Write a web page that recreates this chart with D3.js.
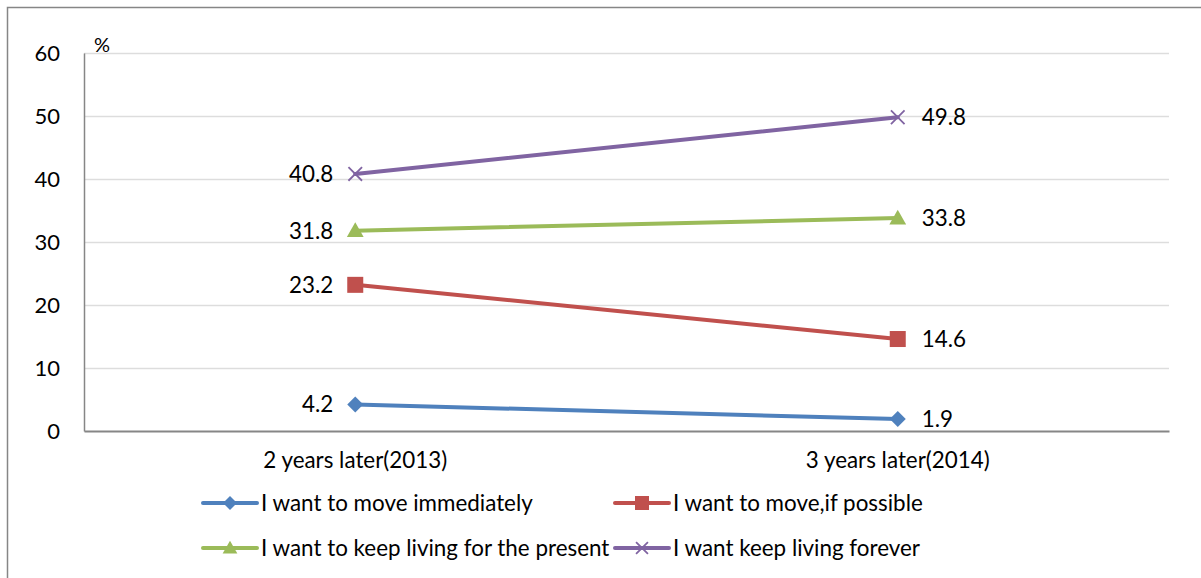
<!DOCTYPE html>
<html>
<head>
<meta charset="utf-8">
<script src="https://cdn.jsdelivr.net/npm/d3@7"></script>
<style>
  html, body { margin: 0; padding: 0; background: #fff; }
  svg { display: block; font-family: Lato, "Open Sans", sans-serif; }
</style>
</head>
<body>
<svg id="chart" width="1201" height="578"></svg>
<script>
// Survey answers on intention to stay, two survey years
const categories = ["2 years later(2013)", "3 years later(2014)"];
const seriesNames = [
  "I want to move immediately",
  "I want to move,if possible",
  "I want to keep living for the present",
  "I want keep living forever"
];
const moveImmediately = [4.2, 1.9];
const moveIfPossible = [23.2, 14.6];
const keepForPresent = [31.8, 33.8];
const keepForever = [40.8, 49.8];
const yTicks = [0, 10, 20, 30, 40, 50, 60];

const seriesValues = [moveImmediately, moveIfPossible, keepForPresent, keepForever];
const colors = ["#4F81BD", "#C0504D", "#9BBB59", "#8064A2"];
const markers = ["diamond", "square", "triangle", "cross"];

const svg = d3.select("#chart");
const W = 1201, H = 578;
const plot = { left: 84, right: 1169, top: 53, bottom: 431 };
const fontFamily = "Lato, 'Open Sans', sans-serif";
const fontSize = 22.4;

// outer chart frame
svg.append("rect")
  .attr("x", 7.5).attr("y", 7.5)
  .attr("width", W + 20).attr("height", H + 20)
  .attr("fill", "none").attr("stroke", "#868686").attr("stroke-width", 1.5);

const x = d3.scaleBand().domain(categories).range([plot.left, plot.right]);
const y = d3.scaleLinear().domain([0, 60]).range([plot.bottom, plot.top]);

// gridlines
svg.append("g").selectAll("line").data(yTicks.filter(t => t > 0)).join("line")
  .attr("x1", plot.left).attr("x2", plot.right)
  .attr("y1", d => y(d) + 0.5).attr("y2", d => y(d) + 0.5)
  .attr("stroke", "#DDDDDD").attr("stroke-width", 1.5);

// y axis
const yAxis = d3.axisLeft(y).tickValues(yTicks).tickSize(0).tickPadding(24);
const gy = svg.append("g").attr("transform", `translate(${plot.left},0)`).call(yAxis);
gy.select(".domain").attr("stroke", "#868686").attr("stroke-width", 1.5);
gy.selectAll("text").attr("font-size", 22).attr("fill", "#000")
  .attr("font-family", fontFamily);

// x axis
const xAxis = d3.axisBottom(x).tickSize(0).tickPadding(21);
const gx = svg.append("g").attr("transform", `translate(0,${plot.bottom})`).call(xAxis);
gx.select(".domain").attr("stroke", "#868686").attr("stroke-width", 2);
gx.selectAll("text").attr("font-size", fontSize).attr("fill", "#000")
  .attr("font-family", fontFamily);

// unit label
svg.append("text").attr("x", 94).attr("y", 52)
  .attr("font-size", 20).text("%");

function drawMarker(g, type, color, cx, cy, s) {
  if (type === "diamond") {
    g.append("path")
      .attr("d", `M${cx},${cy - s}L${cx + s},${cy}L${cx},${cy + s}L${cx - s},${cy}Z`)
      .attr("fill", color);
  } else if (type === "square") {
    g.append("rect").attr("x", cx - s).attr("y", cy - s)
      .attr("width", 2 * s).attr("height", 2 * s).attr("fill", color);
  } else if (type === "triangle") {
    g.append("path")
      .attr("d", `M${cx},${cy - s * 1.05}L${cx + s * 1.05},${cy + s * 0.8}L${cx - s * 1.05},${cy + s * 0.8}Z`)
      .attr("fill", color);
  } else {
    const k = s * 0.85;
    g.append("path")
      .attr("d", `M${cx - k},${cy - k}L${cx + k},${cy + k}M${cx - k},${cy + k}L${cx + k},${cy - k}`)
      .attr("stroke", color).attr("stroke-width", 1.8).attr("fill", "none");
  }
}

const line = d3.line()
  .x((d, i) => x(categories[i]) + x.bandwidth() / 2)
  .y(d => y(d));

seriesValues.forEach((vals, si) => {
  const g = svg.append("g");
  g.append("path").datum(vals)
    .attr("d", line)
    .attr("fill", "none").attr("stroke", colors[si]).attr("stroke-width", 4)
    .attr("stroke-linecap", "round");
  vals.forEach((v, i) => {
    const cx = x(categories[i]) + x.bandwidth() / 2;
    const cy = y(v);
    drawMarker(g, markers[si], colors[si], cx, cy, 8);
    g.append("text")
      .attr("x", i === 0 ? cx - 22 : cx + 24)
      .attr("y", cy)
      .attr("dy", "0.35em")
      .attr("text-anchor", i === 0 ? "end" : "start")
      .attr("font-size", fontSize)
      .text(v.toFixed(1));
  });
});

// legend, two columns by two rows
const legendCols = [203, 615];
const legendRows = [503, 548];
seriesNames.forEach((name, si) => {
  const lx = legendCols[si % 2];
  const ly = legendRows[Math.floor(si / 2)];
  const g = svg.append("g");
  g.append("line").attr("x1", lx).attr("x2", lx + 54)
    .attr("y1", ly).attr("y2", ly)
    .attr("stroke", colors[si]).attr("stroke-width", 4).attr("stroke-linecap", "round");
  drawMarker(g, markers[si], colors[si], lx + 27, ly, 7);
  g.append("text").attr("x", lx + 58).attr("y", ly).attr("dy", "0.35em")
    .attr("font-size", fontSize).text(name);
});
</script>
</body>
</html>
